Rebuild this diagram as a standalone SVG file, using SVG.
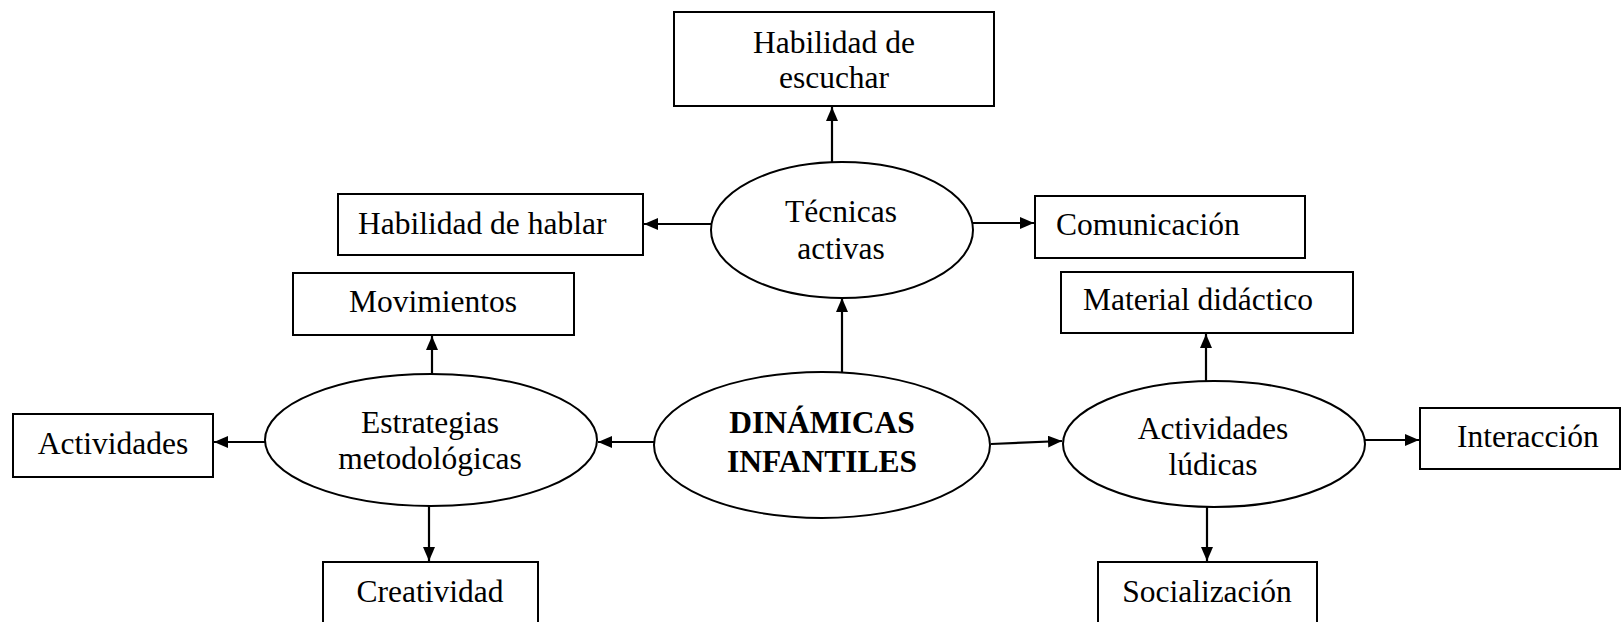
<svg xmlns="http://www.w3.org/2000/svg" width="1621" height="622" viewBox="0 0 1621 622">
<style>
  .box { fill: #ffffff; stroke: #000000; stroke-width: 2; }
  .ell { fill: #ffffff; stroke: #000000; stroke-width: 2; }
  .t { font-family: "Liberation Serif", "Times New Roman", serif; font-size: 31.5px; fill: #000000; }
  .c { text-anchor: middle; }
  .b { font-weight: bold; }
  .conn { stroke: #000000; stroke-width: 2.2; fill: none; marker-end: url(#arr); }
</style>
<defs>
  <marker id="arr" markerUnits="userSpaceOnUse" markerWidth="14" markerHeight="12" viewBox="0 0 14 12" refX="14" refY="6" orient="auto">
    <path d="M0,0 L14,6 L0,12 Z" fill="#000000"/>
  </marker>
</defs>
<rect width="1621" height="622" fill="#ffffff"/>

<g id="connectors">
  <line class="conn" x1="832" y1="162" x2="832" y2="107"/>
  <line class="conn" x1="711" y1="224" x2="644" y2="224"/>
  <line class="conn" x1="973" y1="223" x2="1034" y2="223"/>
  <line class="conn" x1="842" y1="373" x2="842" y2="298"/>
  <line class="conn" x1="654" y1="442" x2="598" y2="442"/>
  <line class="conn" x1="991" y1="444" x2="1062" y2="441"/>
  <line class="conn" x1="432" y1="374" x2="432" y2="336"/>
  <line class="conn" x1="265" y1="442" x2="214" y2="442"/>
  <line class="conn" x1="429" y1="506" x2="429" y2="561"/>
  <line class="conn" x1="1206" y1="381" x2="1206" y2="334"/>
  <line class="conn" x1="1364" y1="440" x2="1419" y2="440"/>
  <line class="conn" x1="1207" y1="507" x2="1207" y2="561"/>
</g>

<g id="habilidad-escuchar">
  <rect class="box" x="674" y="12" width="320" height="94"/>
  <text class="t c" x="834" y="53">Habilidad de</text>
  <text class="t c" x="834" y="88">escuchar</text>
</g>

<g id="tecnicas-activas">
  <ellipse class="ell" cx="842" cy="230" rx="131" ry="68"/>
  <text class="t c" x="841" y="222">Técnicas</text>
  <text class="t c" x="841" y="259">activas</text>
</g>

<g id="habilidad-hablar">
  <rect class="box" x="338" y="194" width="305" height="61"/>
  <text class="t" x="358" y="234">Habilidad de hablar</text>
</g>

<g id="comunicacion">
  <rect class="box" x="1035" y="196" width="270" height="62"/>
  <text class="t" x="1056" y="235">Comunicación</text>
</g>

<g id="movimientos">
  <rect class="box" x="293" y="273" width="281" height="62"/>
  <text class="t c" x="433" y="312">Movimientos</text>
</g>

<g id="material-didactico">
  <rect class="box" x="1061" y="272" width="292" height="61"/>
  <text class="t" x="1083" y="310">Material didáctico</text>
</g>

<g id="actividades">
  <rect class="box" x="13" y="414" width="200" height="63"/>
  <text class="t c" x="113" y="454">Actividades</text>
</g>

<g id="estrategias">
  <ellipse class="ell" cx="431" cy="440" rx="166" ry="66"/>
  <text class="t c" x="430" y="433">Estrategias</text>
  <text class="t c" x="430" y="469">metodológicas</text>
</g>

<g id="dinamicas">
  <ellipse class="ell" cx="822" cy="445" rx="168" ry="73"/>
  <text class="t c b" x="822" y="433">DINÁMICAS</text>
  <text class="t c b" x="822" y="472">INFANTILES</text>
</g>

<g id="actividades-ludicas">
  <ellipse class="ell" cx="1214" cy="444" rx="151" ry="63"/>
  <text class="t c" x="1213" y="439">Actividades</text>
  <text class="t c" x="1213" y="475">lúdicas</text>
</g>

<g id="interaccion">
  <rect class="box" x="1420" y="408" width="200" height="61"/>
  <text class="t" x="1457" y="447">Interacción</text>
</g>

<g id="creatividad">
  <rect class="box" x="323" y="562" width="215" height="80"/>
  <text class="t c" x="430" y="602">Creatividad</text>
</g>

<g id="socializacion">
  <rect class="box" x="1098" y="562" width="219" height="80"/>
  <text class="t c" x="1207" y="602">Socialización</text>
</g>
</svg>
